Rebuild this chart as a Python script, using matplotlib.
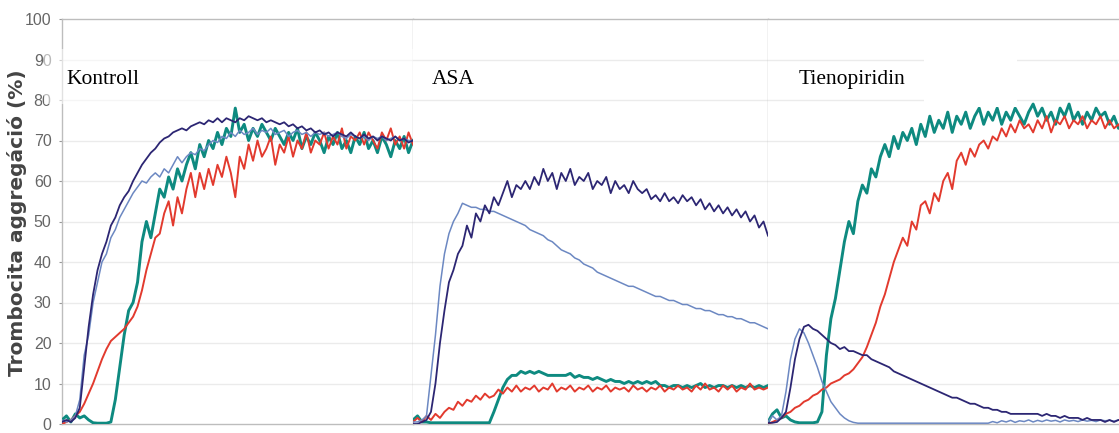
import numpy as np
import matplotlib
matplotlib.use("Agg")
import matplotlib.pyplot as plt
from matplotlib.patches import Rectangle

# Aggregation traces (%), sampled evenly over each panel's time window
panels = ["Kontroll", "ASA", "Tienopiridin"]

kontroll_navy = [0.5, 1, 0.5, 1.5, 4, 14, 24, 32, 38, 42, 45, 49, 51, 54, 56, 57.5, 60, 62, 64, 65.5,
                 67, 68, 69.5, 70.5, 71, 72, 72.5, 73, 72.5, 73.5, 74, 74.5, 74, 75, 74.5, 75.5, 74.5, 75.5, 75, 74.5,
                 75.5, 75, 76, 75.5, 75, 75.5, 74.5, 75, 74.5, 74, 74.5, 73.5, 74, 73, 73.5, 72.5, 73, 72, 72.5, 71.5,
                 72, 71, 72, 71.5, 71, 72, 71, 70.5, 71.5, 70.5, 71, 70, 71, 70.5, 70, 71, 70, 70.5, 69.5, 70]
kontroll_light = [1, 0.5, 1, 2, 6, 17, 22, 30, 35, 40, 42, 46, 48, 51, 53, 55, 57, 58.5, 60, 59.5,
                  61, 62, 61, 63, 62, 64, 66, 64.5, 66, 67, 66.5, 68, 67.5, 69, 70, 69.5, 71, 70.5, 72, 71,
                  72.5, 71.5, 72, 73, 71.5, 72.5, 72, 73, 71.5, 72, 72.5, 71, 72, 72.5, 71.5, 72, 71, 72, 71.5, 72,
                  71, 71.5, 72, 71, 70.5, 71.5, 71, 70.5, 71, 70, 71, 70.5, 71, 70, 70.5, 71, 70, 70.5, 70, 70]
kontroll_red = [0, 0.5, 1, 2, 3, 5, 7.5, 10, 13, 16, 18.5, 20.5, 21.5, 22.5, 23.5, 25, 26.5, 29, 33, 38,
                42, 46, 47, 52, 55, 49, 56, 52, 58, 62, 56, 62, 58, 63, 59, 64, 61, 66, 62, 56,
                66, 63, 69, 65, 70, 66, 68, 71, 64, 69, 67, 71, 66, 70, 68, 72, 67, 70, 69, 72,
                68, 71, 69, 73, 68, 71, 70, 72, 69, 72, 70, 68, 72, 70, 73, 69, 71, 68, 72, 69]
kontroll_teal = [1, 2, 0.5, 2.5, 1.5, 2, 1, 0.3, 0.2, 0.2, 0.2, 0.5, 6, 14, 22, 28, 30, 35, 45, 50,
                 46, 52, 58, 56, 61, 58, 63, 60, 64, 67, 63, 69, 66, 70, 68, 72, 69, 73, 71, 78,
                 72, 74, 70, 73, 71, 74, 72, 70, 73, 71, 69, 72, 70, 73, 68, 71, 69, 72, 70, 67,
                 71, 69, 72, 68, 70, 67, 71, 69, 72, 68, 70, 67, 71, 69, 66, 70, 68, 71, 67, 70]

asa_navy = [0, 0, 0.5, 1, 3, 10, 20, 28, 35, 38, 42, 44, 49, 46, 52, 50, 54, 52, 56, 54,
            57, 60, 56, 59, 58, 60, 58, 61, 59, 63, 60, 62, 58, 62, 60, 63, 59, 61, 60, 62,
            58, 60, 59, 61, 57, 60, 58, 59, 57, 60, 58, 57, 58, 55.5, 56.5, 55, 57, 55, 56, 54.5,
            56.5, 55, 56, 54, 55.5, 53, 54.5, 52.5, 54, 52, 53.5, 51.5, 53, 51, 52.5, 50, 51.5, 48.5, 50, 46.5]
asa_light = [0.5, 0.5, 1, 2, 12, 22, 34, 42, 47, 50, 52, 54.5, 54, 53.5, 53.5, 53, 53, 52.5, 52.5, 52,
             51.5, 51, 50.5, 50, 49.5, 49, 48, 47.5, 47, 46.5, 45.5, 45, 44, 43, 42.5, 42, 41, 40.5, 39.5, 39,
             38.5, 37.5, 37, 36.5, 36, 35.5, 35, 34.5, 34, 34, 33.5, 33, 32.5, 32, 31.5, 31.5, 31, 30.5, 30.5, 30,
             29.5, 29.5, 29, 28.5, 28.5, 28, 28, 27.5, 27, 27, 26.5, 26.5, 26, 26, 25.5, 25, 25, 24.5, 24, 23.5]
asa_red = [0.5, 1.5, 0.5, 2, 1, 2.5, 1.5, 3, 4, 3.5, 5.5, 4.5, 6, 5.5, 7, 6, 7.5, 6.5, 7, 8.5,
           7.5, 9, 8, 9.5, 8, 9, 8.5, 9.5, 8, 9, 8.5, 10, 8, 9, 8.5, 9.5, 8, 9, 8.5, 9.5,
           8, 9, 8.5, 9.5, 8, 9, 8.5, 9, 8, 9.5, 8.5, 9, 8, 9, 8.5, 9.5, 8, 9, 8.5, 9.5,
           8.5, 9, 8, 9.5, 8.5, 10, 8.5, 9, 8, 9.5, 8.5, 9.5, 8, 9, 8.5, 10, 8.5, 9, 8.5, 9]
asa_teal = [1, 2, 0.5, 0.5, 0.3, 0.3, 0.3, 0.3, 0.3, 0.3, 0.3, 0.3, 0.3, 0.3, 0.3, 0.3, 0.3, 0.3, 3, 6,
            9, 11, 12, 12, 13, 12.5, 13, 12.5, 13, 12.5, 12, 12, 12, 12, 12, 12.5, 11.5, 12, 11.5, 11.5,
            11, 11.5, 11, 10.5, 11, 10.5, 10.5, 10, 10.5, 10, 10.5, 10, 10.5, 10, 10.5, 9.5, 9.5, 9, 9.5, 9.5,
            9, 9.5, 9, 9.5, 10, 9, 9.5, 9, 9.5, 9.5, 9, 9.5, 9, 9.5, 9, 9.5, 9, 9.5, 9, 9.5]

tieno_navy = [0.3, 0.3, 0.5, 1.5, 3, 9, 16, 21, 24, 24.5, 23.5, 23, 22, 21, 20, 19.5, 18.5, 19, 18, 18,
              17.5, 17, 17, 16, 15.5, 15, 14.5, 14, 13, 12.5, 12, 11.5, 11, 10.5, 10, 9.5, 9, 8.5, 8, 7.5,
              7, 6.5, 6.5, 6, 5.5, 5, 5, 4.5, 4, 4, 3.5, 3.5, 3, 3, 2.5, 2.5, 2.5, 2.5, 2.5, 2.5,
              2.5, 2, 2.5, 2, 2, 1.5, 2, 1.5, 1.5, 1.5, 1, 1.5, 1, 1, 1, 0.5, 1, 0.5, 1, 0.5]
tieno_light = [0.5, 2, 1, 2, 8, 16, 21, 23.5, 22.5, 20, 17, 14, 10.5, 8, 5.5, 4, 2.5, 1.5, 0.8, 0.4,
               0.2, 0.2, 0.2, 0.2, 0.2, 0.2, 0.2, 0.2, 0.2, 0.2, 0.2, 0.2, 0.2, 0.2, 0.2, 0.2, 0.2, 0.2, 0.2, 0.2,
               0.2, 0.2, 0.2, 0.2, 0.2, 0.2, 0.2, 0.2, 0.2, 0.2, 0.6, 0.3, 0.8, 0.5, 0.9, 0.4, 0.8, 0.6, 1, 0.5,
               0.9, 0.6, 1, 0.7, 0.9, 0.5, 1, 0.7, 0.9, 0.6, 1, 0.7, 0.9, 0.6, 1, 0.8, 0.9, 0.7, 1, 0.8]
tieno_red = [0, 0.5, 1, 1.5, 2.5, 3, 4, 4.5, 5.5, 6, 7, 7.5, 8.5, 9, 10, 10.5, 11, 12, 12.5, 13.5,
             15, 16.5, 19, 22, 25, 29, 32, 36, 40, 43, 46, 44, 50, 48, 54, 55, 52, 57, 55, 60,
             62, 58, 65, 67, 64, 68, 66, 69, 70, 68, 71, 70, 73, 71, 74, 72, 75, 73, 74, 72,
             75, 73, 76, 72, 75, 74, 76, 73, 75, 74, 76, 73, 75, 74, 76, 73, 75, 73, 74, 72]
tieno_teal = [0.5, 2.5, 3.5, 1.5, 2, 1, 0.5, 0.3, 0.3, 0.3, 0.3, 0.5, 3, 17, 26, 31, 38, 45, 50, 47,
              55, 59, 57, 63, 61, 66, 69, 66, 71, 68, 72, 70, 73, 69, 74, 71, 76, 72, 75, 73,
              77, 72, 76, 74, 77, 73, 76, 78, 74, 77, 75, 78, 74, 77, 75, 78, 76, 74, 77, 79,
              76, 78, 75, 77, 74, 78, 76, 79, 75, 77, 74, 77, 75, 78, 76, 77, 74, 76, 73, 75]

series = [
    {"teal": kontroll_teal, "red": kontroll_red, "light": kontroll_light, "navy": kontroll_navy},
    {"teal": asa_teal, "red": asa_red, "light": asa_light, "navy": asa_navy},
    {"teal": tieno_teal, "red": tieno_red, "light": tieno_light, "navy": tieno_navy},
]

colors = {"navy": "#2c2673", "light": "#6c88c2", "red": "#e23a2e", "teal": "#0e8a80"}
widths = {"navy": 1.3, "light": 1.1, "red": 1.4, "teal": 2.1}
line_order = ["teal", "red", "light", "navy"]

W, H = 1119, 433
fig = plt.figure(figsize=(W / 100, H / 100), dpi=100)

bottom = 1 - 424 / H
height = (424 - 19) / H
lefts = [62 / W, 413 / W, 768 / W]
panel_w = [351 / W, 355 / W, 355 / W]
label_x = [0.014, 0.054, 0.085]

grid_c = "#ebebeb"
frame_c = "#bdbdbd"

axes = []
for k, name in enumerate(panels):
    ax = fig.add_axes([lefts[k], bottom, panel_w[k], height])
    axes.append(ax)
    ax.set_xlim(0, 1)
    ax.set_ylim(0, 100)
    ax.set_yticks(np.arange(0, 101, 10))
    ax.set_xticks([])
    for y in range(10, 100, 10):
        ax.axhline(y, color=grid_c, lw=1.0, zorder=0)

    for key in line_order:
        vals = series[k][key]
        t = np.linspace(0, 1, len(vals))
        ax.plot(t, vals, color=colors[key], lw=widths[key], zorder=3,
                solid_joinstyle="round")

    for side in ["top", "bottom", "right", "left"]:
        ax.spines[side].set_color(frame_c)
        ax.spines[side].set_linewidth(1.0)
    if k > 0:
        ax.spines["left"].set_visible(False)
        ax.tick_params(axis="y", left=False, labelleft=False)
    else:
        ax.tick_params(axis="y", length=2.5, width=0.8, color="#999999",
                       pad=5, labelsize=11.5, labelcolor="#666666")
        for lab in ax.get_yticklabels():
            lab.set_family("Liberation Sans")

    ax.text(label_x[k], 84, name, transform=ax.get_yaxis_transform(),
            family="Liberation Serif", fontsize=15.5, color="black",
            ha="left", va="baseline", zorder=6)

# white label boxes laid over the traces
axes[0].add_patch(Rectangle((-0.05, 79.0), 1.05, 13.5, facecolor="white",
                            edgecolor="none", alpha=0.55, zorder=4, clip_on=False))
axes[2].add_patch(Rectangle((0.44, 78.3), 0.26, 16, facecolor="white",
                            edgecolor="none", zorder=4))

fig.text(17 / W, 1 - 223 / H, "Trombocita aggregáció (%)", rotation=90,
         ha="center", va="center", fontsize=14.5, fontweight="bold",
         family="DejaVu Sans", color="#444444")

fig.savefig("out.png", dpi=100)
